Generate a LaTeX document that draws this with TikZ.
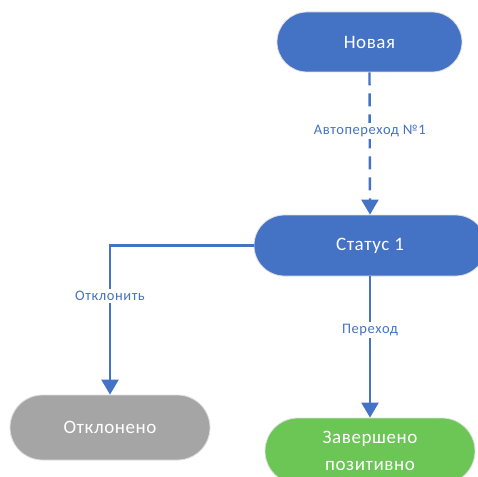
\documentclass[tikz,border=0pt]{standalone}
\usepackage{fontspec}
\setmainfont{Carlito}
\newfontfamily\statefont[LetterSpace=3]{Carlito}
\newfontfamily\lblfont[LetterSpace=4]{Carlito}
\usetikzlibrary{arrows.meta}
\definecolor{stblue}{HTML}{4472C4}
\definecolor{stgray}{HTML}{A5A5A5}
\definecolor{stgreen}{HTML}{6CC655}
\tikzset{
  state/.style={draw=white!75!gray, line width=0.8pt, text=white, align=center,
    font=\statefont\fontsize{19}{27}\selectfont, inner sep=0pt},
  conn/.style={draw=stblue, line width=2.4pt, -{Triangle[width=17pt,length=15pt]}},
  lbl/.style={fill=white, text=stblue, font=\lblfont\fontsize{14.5}{16}\selectfont, inner sep=2pt},
}
\begin{document}
\begin{tikzpicture}[x=1pt,y=-1pt]
\useasboundingbox (0,0) rectangle (478,476);
\clip (0,0) rectangle (478,476);
\node[state, fill=stblue, minimum width=185pt, minimum height=60pt, rounded corners=30pt] (nov) at (369.5,42) {Новая};
\node[state, fill=stblue, minimum width=232pt, minimum height=61pt, rounded corners=30.5pt] (st1) at (370,245.5) {Статус 1};
\node[state, fill=stgray, minimum width=200pt, minimum height=65pt, rounded corners=32.5pt] (otk) at (110,427.5) {Отклонено};
\node[state, fill=stgreen, minimum width=210pt, minimum height=66pt, rounded corners=33pt] (zav) at (370,451) {Завершено\\позитивно};
\draw[conn, dash pattern=on 13pt off 8pt] (nov.south) -- node[lbl, pos=0.41] {Автопереход №1} (st1.north);
\draw[conn] (st1.west) -| node[lbl, pos=0.67] {Отклонить} (otk.north);
\draw[conn] (st1.south) -- node[lbl, pos=0.38] {Переход} (zav.north);
\end{tikzpicture}
\end{document}
